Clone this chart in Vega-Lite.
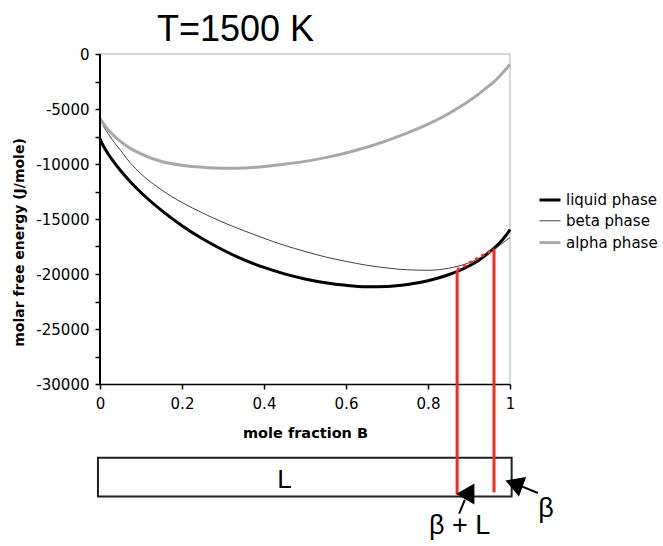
{
  "$schema": "https://vega.github.io/schema/vega-lite/v6.json",
  "width": 410,
  "height": 462,
  "autosize": {"type": "none"},
  "padding": {"left": 100, "top": 54, "right": 153, "bottom": 30},
  "background": "white",
  "config": {"view": {"stroke": null}, "font": "DejaVu Sans"},
  "title": {"text": "T=1500 K", "font": "Liberation Sans", "fontSize": 36, "fontWeight": "normal", "color": "black", "anchor": "start", "frame": "group", "dx": 57, "offset": -2},
  "datasets": {
    "curves": [
      {"x": 0, "y": -7700, "phase": "liquid phase"},
      {"x": 0.005, "y": -8135, "phase": "liquid phase"},
      {"x": 0.01, "y": -8480, "phase": "liquid phase"},
      {"x": 0.02, "y": -9090, "phase": "liquid phase"},
      {"x": 0.03, "y": -9630, "phase": "liquid phase"},
      {"x": 0.05, "y": -10590, "phase": "liquid phase"},
      {"x": 0.075, "y": -11650, "phase": "liquid phase"},
      {"x": 0.1, "y": -12590, "phase": "liquid phase"},
      {"x": 0.15, "y": -14220, "phase": "liquid phase"},
      {"x": 0.2, "y": -15610, "phase": "liquid phase"},
      {"x": 0.25, "y": -16800, "phase": "liquid phase"},
      {"x": 0.3, "y": -17820, "phase": "liquid phase"},
      {"x": 0.35, "y": -18690, "phase": "liquid phase"},
      {"x": 0.4, "y": -19400, "phase": "liquid phase"},
      {"x": 0.45, "y": -19990, "phase": "liquid phase"},
      {"x": 0.5, "y": -20450, "phase": "liquid phase"},
      {"x": 0.55, "y": -20800, "phase": "liquid phase"},
      {"x": 0.6, "y": -21030, "phase": "liquid phase"},
      {"x": 0.65, "y": -21150, "phase": "liquid phase"},
      {"x": 0.7, "y": -21130, "phase": "liquid phase"},
      {"x": 0.75, "y": -20960, "phase": "liquid phase"},
      {"x": 0.8, "y": -20620, "phase": "liquid phase"},
      {"x": 0.85, "y": -20070, "phase": "liquid phase"},
      {"x": 0.9, "y": -19270, "phase": "liquid phase"},
      {"x": 0.925, "y": -18720, "phase": "liquid phase"},
      {"x": 0.95, "y": -18000, "phase": "liquid phase"},
      {"x": 0.97, "y": -17350, "phase": "liquid phase"},
      {"x": 0.98, "y": -16950, "phase": "liquid phase"},
      {"x": 0.99, "y": -16500, "phase": "liquid phase"},
      {"x": 0.995, "y": -16250, "phase": "liquid phase"},
      {"x": 1, "y": -15950, "phase": "liquid phase"},
      {"x": 0, "y": -5900, "phase": "beta phase"},
      {"x": 0.005, "y": -6300, "phase": "beta phase"},
      {"x": 0.01, "y": -6650, "phase": "beta phase"},
      {"x": 0.02, "y": -7250, "phase": "beta phase"},
      {"x": 0.03, "y": -7800, "phase": "beta phase"},
      {"x": 0.05, "y": -8750, "phase": "beta phase"},
      {"x": 0.075, "y": -9950, "phase": "beta phase"},
      {"x": 0.1, "y": -10900, "phase": "beta phase"},
      {"x": 0.15, "y": -12350, "phase": "beta phase"},
      {"x": 0.2, "y": -13500, "phase": "beta phase"},
      {"x": 0.25, "y": -14450, "phase": "beta phase"},
      {"x": 0.3, "y": -15300, "phase": "beta phase"},
      {"x": 0.35, "y": -16050, "phase": "beta phase"},
      {"x": 0.4, "y": -16750, "phase": "beta phase"},
      {"x": 0.45, "y": -17400, "phase": "beta phase"},
      {"x": 0.5, "y": -17950, "phase": "beta phase"},
      {"x": 0.55, "y": -18450, "phase": "beta phase"},
      {"x": 0.6, "y": -18850, "phase": "beta phase"},
      {"x": 0.65, "y": -19200, "phase": "beta phase"},
      {"x": 0.7, "y": -19450, "phase": "beta phase"},
      {"x": 0.75, "y": -19620, "phase": "beta phase"},
      {"x": 0.8, "y": -19660, "phase": "beta phase"},
      {"x": 0.85, "y": -19480, "phase": "beta phase"},
      {"x": 0.9, "y": -18980, "phase": "beta phase"},
      {"x": 0.925, "y": -18570, "phase": "beta phase"},
      {"x": 0.95, "y": -18060, "phase": "beta phase"},
      {"x": 0.97, "y": -17550, "phase": "beta phase"},
      {"x": 0.98, "y": -17250, "phase": "beta phase"},
      {"x": 0.99, "y": -16950, "phase": "beta phase"},
      {"x": 1, "y": -16700, "phase": "beta phase"},
      {"x": 0, "y": -5850, "phase": "alpha phase"},
      {"x": 0.005, "y": -6150, "phase": "alpha phase"},
      {"x": 0.01, "y": -6420, "phase": "alpha phase"},
      {"x": 0.02, "y": -6880, "phase": "alpha phase"},
      {"x": 0.03, "y": -7280, "phase": "alpha phase"},
      {"x": 0.05, "y": -7950, "phase": "alpha phase"},
      {"x": 0.075, "y": -8600, "phase": "alpha phase"},
      {"x": 0.1, "y": -9080, "phase": "alpha phase"},
      {"x": 0.15, "y": -9770, "phase": "alpha phase"},
      {"x": 0.2, "y": -10110, "phase": "alpha phase"},
      {"x": 0.25, "y": -10300, "phase": "alpha phase"},
      {"x": 0.3, "y": -10380, "phase": "alpha phase"},
      {"x": 0.35, "y": -10370, "phase": "alpha phase"},
      {"x": 0.4, "y": -10230, "phase": "alpha phase"},
      {"x": 0.45, "y": -10020, "phase": "alpha phase"},
      {"x": 0.5, "y": -9760, "phase": "alpha phase"},
      {"x": 0.55, "y": -9420, "phase": "alpha phase"},
      {"x": 0.6, "y": -9000, "phase": "alpha phase"},
      {"x": 0.65, "y": -8480, "phase": "alpha phase"},
      {"x": 0.7, "y": -7870, "phase": "alpha phase"},
      {"x": 0.75, "y": -7180, "phase": "alpha phase"},
      {"x": 0.8, "y": -6380, "phase": "alpha phase"},
      {"x": 0.85, "y": -5430, "phase": "alpha phase"},
      {"x": 0.9, "y": -4280, "phase": "alpha phase"},
      {"x": 0.925, "y": -3600, "phase": "alpha phase"},
      {"x": 0.95, "y": -2860, "phase": "alpha phase"},
      {"x": 0.97, "y": -2200, "phase": "alpha phase"},
      {"x": 0.98, "y": -1800, "phase": "alpha phase"},
      {"x": 0.99, "y": -1380, "phase": "alpha phase"},
      {"x": 1, "y": -950, "phase": "alpha phase"}
    ],
    "border": [
      {"x": 0, "y": 0, "x2": 1, "y2": 0},
      {"x": 1, "y": 0, "x2": 1, "y2": -30000}
    ],
    "yline": [{"x": 0, "y": 0, "x2": 0, "y2": -30000}],
    "redv": [
      {"x": 0.871, "y": -19620, "x2": 0.871, "y2": -40050},
      {"x": 0.961, "y": -17720, "x2": 0.961, "y2": -39850}
    ],
    "redd": [{"x": 0.871, "y": -19620, "x2": 0.961, "y2": -17720}],
    "box": [{"x": -0.005, "x2": 1.004, "y": -36700, "y2": -40230}],
    "stems": [
      {"x": 0.876, "y": -41790, "x2": 0.89, "y2": -40510},
      {"x": 1.068, "y": -39905, "x2": 1.03, "y2": -39330}
    ],
    "head1": [{"x": 0.902, "y": -39770}],
    "head2": [{"x": 1.0098, "y": -39060}],
    "boxlabel": [{"x": 0.45, "y": -38700, "label": "L"}],
    "labels": [
      {"x": 0.877, "y": -42900, "label": "β + L"},
      {"x": 1.088, "y": -41350, "label": "β"}
    ]
  },
  "encoding": {
    "x": {"field": "x", "type": "quantitative",
      "scale": {"domain": [0, 1], "nice": false, "zero": false},
      "axis": {"values": [0, 0.2, 0.4, 0.6, 0.8, 1], "labelExpr": "'' + datum.value", "offset": -132, "grid": false,
        "title": "mole fraction B", "titleFont": "DejaVu Sans", "titleFontWeight": "bold", "titleFontSize": 14.5, "titleColor": "black", "titlePadding": 15,
        "labelFont": "DejaVu Sans", "labelFontSize": 15, "labelColor": "black", "labelPadding": 7, "labelFlush": false,
        "domainColor": "black", "domainWidth": 1.5, "tickColor": "black", "tickWidth": 1.5, "tickSize": 5}},
    "y": {"field": "y", "type": "quantitative",
      "scale": {"domain": [-42000, 0], "nice": false, "zero": false},
      "axis": {"values": [-30000, -27500, -25000, -22500, -20000, -17500, -15000, -12500, -10000, -7500, -5000, -2500, 0],
        "labelExpr": "datum.value % 5000 === 0 ? '' + datum.value : ''", "domain": false, "grid": false,
        "title": "molar free energy (J/mole)", "titleFont": "DejaVu Sans", "titleFontWeight": "bold", "titleFontSize": 14, "titleColor": "black",
        "titleX": -74, "titleY": 188,
        "labelFont": "DejaVu Sans", "labelFontSize": 15, "labelColor": "black", "labelPadding": 6,
        "tickColor": "black", "tickWidth": 1.5, "tickSize": 5}}
  },
  "layer": [
    {
      "data": {"name": "box"},
      "mark": {"type": "rect", "fill": "white", "stroke": "#222222", "strokeWidth": 2, "clip": false},
      "encoding": {"x2": {"field": "x2"}, "y2": {"field": "y2"}}
    },
    {
      "data": {"name": "border"},
      "mark": {"type": "rule", "color": "#b3b3b3", "strokeWidth": 1},
      "encoding": {"x2": {"field": "x2"}, "y2": {"field": "y2"}}
    },
    {
      "data": {"name": "curves"},
      "mark": {"type": "line", "interpolate": "monotone", "clip": false},
      "encoding": {
        "color": {"field": "phase", "type": "nominal",
          "scale": {"domain": ["liquid phase", "beta phase", "alpha phase"], "range": ["#000000", "#404040", "#a8a8a8"]},
          "legend": {"orient": "none", "legendX": 438, "legendY": 134, "title": null, "symbolType": "stroke", "symbolSize": 441,
            "labelFont": "DejaVu Sans", "labelFontSize": 15, "labelColor": "black", "rowPadding": 1.8, "labelOffset": 4, "padding": 0}},
        "strokeWidth": {"field": "phase", "type": "nominal",
          "scale": {"type": "ordinal", "domain": ["liquid phase", "beta phase", "alpha phase"], "range": [3, 1, 3]},
          "legend": {"orient": "none", "legendX": 438, "legendY": 134, "title": null, "symbolType": "stroke", "symbolSize": 441,
            "labelFont": "DejaVu Sans", "labelFontSize": 15, "labelColor": "black", "rowPadding": 1.8, "labelOffset": 4, "padding": 0}}
      }
    },
    {
      "data": {"name": "yline"},
      "mark": {"type": "rule", "color": "black", "strokeWidth": 2},
      "encoding": {"x2": {"field": "x2"}, "y2": {"field": "y2"}}
    },
    {
      "data": {"name": "redd"},
      "mark": {"type": "rule", "color": "#f62a1c", "strokeWidth": 3, "strokeDash": [3, 4]},
      "encoding": {"x2": {"field": "x2"}, "y2": {"field": "y2"}}
    },
    {
      "data": {"name": "redv"},
      "mark": {"type": "rule", "color": "#f62a1c", "strokeWidth": 3},
      "encoding": {"x2": {"field": "x2"}, "y2": {"field": "y2"}}
    },
    {
      "data": {"name": "stems"},
      "mark": {"type": "rule", "color": "black", "strokeWidth": 2},
      "encoding": {"x2": {"field": "x2"}, "y2": {"field": "y2"}}
    },
    {
      "data": {"name": "head1"},
      "mark": {"type": "point", "shape": "triangle-up", "filled": true, "color": "black", "opacity": 1, "size": 440, "angle": 30},
      "encoding": {}
    },
    {
      "data": {"name": "head2"},
      "mark": {"type": "point", "shape": "triangle-up", "filled": true, "color": "black", "opacity": 1, "size": 440, "angle": 290},
      "encoding": {}
    },
    {
      "data": {"name": "boxlabel"},
      "mark": {"type": "text", "font": "Liberation Sans", "fontSize": 26, "color": "black", "baseline": "middle", "align": "center"},
      "encoding": {"text": {"field": "label"}}
    },
    {
      "data": {"name": "labels"},
      "mark": {"type": "text", "font": "Liberation Sans", "fontSize": 27, "color": "black", "baseline": "middle", "align": "center"},
      "encoding": {"text": {"field": "label"}}
    }
  ]
}
